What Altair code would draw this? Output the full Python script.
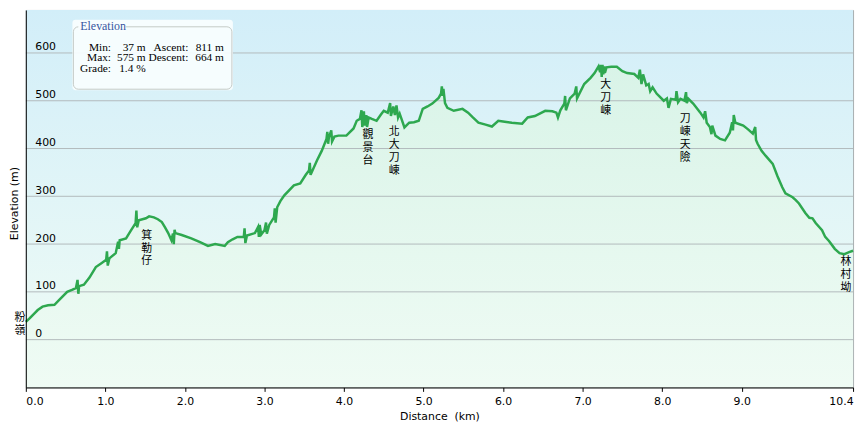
import altair as alt
import pandas as pd

# ---- profile data (distance km, elevation m) ----
dist = [0.00, 0.05, 0.09, 0.15, 0.21, 0.28, 0.36, 0.42, 0.52, 0.58, 0.63, 0.65, 0.66, 0.67, 0.73,
        0.80, 0.88, 0.95, 1.01, 1.02, 1.03, 1.05, 1.13, 1.16, 1.17, 1.18, 1.26, 1.32, 1.38, 1.39,
        1.40, 1.42, 1.51, 1.55, 1.61, 1.66, 1.71, 1.75, 1.79, 1.83, 1.85, 1.86, 1.87, 1.88, 1.96,
        2.08, 2.19, 2.29, 2.38, 2.50, 2.54, 2.60, 2.66, 2.74, 2.75, 2.76, 2.78, 2.88, 2.92, 2.93,
        2.94, 2.96, 3.00, 3.02, 3.03, 3.06, 3.12, 3.13, 3.14, 3.16, 3.20, 3.25, 3.37, 3.45, 3.52,
        3.56, 3.57, 3.58, 3.66, 3.72, 3.78, 3.79, 3.80, 3.81, 3.84, 3.85, 3.88, 3.93, 4.03, 4.12,
        4.16, 4.20, 4.22, 4.23, 4.25, 4.26, 4.28, 4.29, 4.31, 4.35, 4.41, 4.46, 4.50, 4.55, 4.58,
        4.59, 4.62, 4.64, 4.66, 4.68, 4.70, 4.76, 4.82, 4.88, 4.94, 4.99, 5.05, 5.11, 5.19, 5.22,
        5.23, 5.24, 5.25, 5.27, 5.30, 5.38, 5.49, 5.56, 5.62, 5.69, 5.78, 5.86, 5.94, 6.02, 6.11,
        6.24, 6.31, 6.40, 6.53, 6.62, 6.67, 6.69, 6.72, 6.77, 6.78, 6.79, 6.84, 6.90, 6.92, 6.93,
        7.02, 7.10, 7.15, 7.20, 7.22, 7.23, 7.24, 7.25, 7.26, 7.27, 7.28, 7.30, 7.36, 7.43, 7.50,
        7.56, 7.65, 7.70, 7.72, 7.74, 7.76, 7.80, 7.83, 7.85, 7.88, 7.93, 8.02, 8.06, 8.08, 8.11,
        8.17, 8.18, 8.20, 8.23, 8.28, 8.30, 8.31, 8.33, 8.39, 8.48, 8.52, 8.54, 8.56, 8.60, 8.62,
        8.63, 8.67, 8.73, 8.79, 8.85, 8.88, 8.89, 8.90, 8.92, 9.02, 9.08, 9.14, 9.17, 9.18, 9.20,
        9.25, 9.30, 9.39, 9.45, 9.51, 9.55, 9.64, 9.68, 9.72, 9.80, 9.85, 9.89, 9.93, 10.01, 10.05,
        10.10, 10.17, 10.23, 10.29, 10.35, 10.40]
elev = [37, 45, 52, 62, 69, 72, 73, 83, 100, 104, 108, 125, 96, 112, 115,
        130, 152, 160, 167, 185, 155, 170, 181, 205, 190, 208, 212, 228, 244, 270,
        235, 250, 254, 258, 256, 252, 246, 235, 223, 208, 222, 200, 230, 223, 219,
        212, 204, 196, 200, 196, 204, 210, 215, 215, 233, 202, 218, 223, 236, 215,
        240, 220, 229, 245, 222, 240, 256, 275, 245, 277, 290, 302, 323, 327, 345,
        354, 370, 345, 375, 395, 420, 435, 410, 423, 438, 415, 425, 427, 427, 442,
        458, 462, 480, 445, 478, 448, 470, 445, 465, 462, 458, 470, 479, 475, 495,
        468, 488, 470, 490, 465, 473, 444, 454, 455, 458, 483, 488, 494, 506, 515,
        530, 510, 525, 495, 485, 479, 483, 475, 465, 454, 450, 446, 458, 456, 454,
        452, 465, 468, 479, 478, 475, 465, 480, 494, 510, 480, 505, 515, 530, 505,
        535, 548, 558, 572, 560, 575, 550, 575, 555, 572, 558, 570, 571, 571, 562,
        558, 556, 548, 565, 535, 555, 532, 535, 520, 528, 515, 500, 505, 485, 504,
        502, 520, 497, 504, 500, 518, 495, 504, 494, 475, 465, 478, 454, 445, 430,
        448, 427, 420, 417, 433, 455, 438, 470, 454, 448, 440, 431, 445, 418, 410,
        395, 385, 368, 342, 319, 306, 298, 292, 285, 265, 255, 254, 244, 229, 215,
        206, 190, 181, 179, 183, 186]

# ---- place names along the trail ----
place_names = ["粉嶺", "箕勒仔", "觀景台", "北大刀崠", "大刀崠", "刀崠天險", "林村坳"]
place_dist = [-0.075, 1.52, 4.30, 4.63, 7.29, 8.29, 10.31]
place_elev = [58, 230, 441, 447, 545, 474, 174]

# ---- summary box ----
box_title = "Elevation"
stat_names_1 = ["Min:", "Max:", "Grade:"]
stat_values_1 = ["37 m", "575 m", "1.4 %"]
stat_names_2 = ["Ascent:", "Descent:"]
stat_values_2 = ["811 m", "664 m"]

x_ticks = [0, 1, 2, 3, 4, 5, 6, 7, 8, 9, 10.4]
y_ticks = [0, 100, 200, 300, 400, 500, 600]

W, H = 835, 381
profile = pd.DataFrame({"dist": dist, "elev": elev})
places = pd.DataFrame({"dist": place_dist, "elev": place_elev,
                       "name": ["\n".join(list(n)) for n in place_names]})
grid_df = pd.DataFrame({"elev": y_ticks})

xscale = alt.Scale(domain=[0, 10.4], nice=False, zero=False)
yscale = alt.Scale(domain=[-100, 690], nice=False, zero=False)

one = alt.Data(values=[{"a": 1}])

bg = alt.Chart(one).mark_rect(
    fill=alt.Gradient(gradient="linear", x1=0, x2=0, y1=0, y2=1,
                      stops=[alt.GradientStop(color="#d2eef9", offset=0),
                             alt.GradientStop(color="#f0fcf5", offset=1)])
).encode(x=alt.value(0), x2=alt.value(W), y=alt.value(0), y2=alt.value(H))

xaxis = alt.Axis(values=x_ticks, format=".1f", title="Distance\u00a0 (km)", grid=False,
                 domainColor="#000000", tickColor="#000000", tickSize=4, labelPadding=4,
                 labelFlush=True, labelFont="DejaVu Sans", labelFontSize=11, labelColor="#000000",
                 titleFont="DejaVu Sans", titleFontSize=11, titleFontWeight="normal",
                 titleColor="#000000", titlePadding=4, zindex=1)
yaxis = alt.Axis(values=y_ticks, title="Elevation (m)", grid=False,
                 ticks=False, domainColor="#000000", labelAlign="left", labelPadding=-9,
                 labelBaseline="bottom", labelOffset=-1, labelFont="DejaVu Sans", labelFontSize=11,
                 labelColor="#000000", titleFont="DejaVu Sans", titleFontSize=11,
                 titleFontWeight="normal", titleColor="#000000", titleX=-11, titleY=195,
                 titleAngle=-90, titleBaseline="middle", titleAlign="center", zindex=1)

area = alt.Chart(profile).mark_area(
    fill=alt.Gradient(gradient="linear", x1=0, x2=0, y1=0, y2=1,
                      stops=[alt.GradientStop(color="#d9f4e6", offset=0),
                             alt.GradientStop(color="#effbf4", offset=1)]),
    opacity=0.9
).encode(x=alt.X("dist:Q", scale=xscale, axis=xaxis),
         y=alt.Y("elev:Q", scale=yscale, axis=yaxis),
         y2=alt.datum(-100))

grid = alt.Chart(grid_df).mark_rule(color="#b2babc", strokeWidth=1).encode(
    y=alt.Y("elev:Q", scale=yscale), x=alt.value(0), x2=alt.value(W))

line = alt.Chart(profile).mark_line(color="#2ea84f", strokeWidth=2.5).encode(
    x=alt.X("dist:Q", scale=xscale), y=alt.Y("elev:Q", scale=yscale))

labels = alt.Chart(places).mark_text(
    lineBreak="\n", baseline="top", align="center", font="Noto Sans CJK TC",
    fontSize=11, lineHeight=13, color="#000000"
).encode(x=alt.X("dist:Q", scale=xscale), y=alt.Y("elev:Q", scale=yscale), text="name:N")

# summary box
box_bg = alt.Chart(one).mark_rect(fill="#f8fdfe", opacity=0.95, cornerRadius=3).encode(
    x=alt.value(47), x2=alt.value(209), y=alt.value(10), y2=alt.value(81))
box_border = alt.Chart(one).mark_rect(fill="#ffffff", fillOpacity=0, stroke="#c4cac6",
                                      strokeWidth=1, cornerRadius=5).encode(
    x=alt.value(48), x2=alt.value(208), y=alt.value(17), y2=alt.value(80))
title_gap = alt.Chart(one).mark_rect(fill="#f8fdfe").encode(
    x=alt.value(53), x2=alt.value(101), y=alt.value(12), y2=alt.value(22))
pieces = [alt.Chart(one).mark_text(text=box_title, font="Liberation Serif", fontSize=12,
                                   color="#3655a0", align="left", baseline="alphabetic").encode(
    x=alt.value(55), y=alt.value(20))]
rows_y = [38, 49, 60]
FS = 11.5
for i, (n, v) in enumerate(zip(stat_names_1, stat_values_1)):
    pieces.append(alt.Chart(one).mark_text(text=n, font="Liberation Serif", fontSize=FS,
                                           color="#000000", align="right").encode(
        x=alt.value(86), y=alt.value(rows_y[i])))
    pieces.append(alt.Chart(one).mark_text(text=v, font="Liberation Serif", fontSize=FS,
                                           color="#000000", align="right").encode(
        x=alt.value(121), y=alt.value(rows_y[i])))
for i, (n, v) in enumerate(zip(stat_names_2, stat_values_2)):
    pieces.append(alt.Chart(one).mark_text(text=n, font="Liberation Serif", fontSize=FS,
                                           color="#000000", align="right").encode(
        x=alt.value(164), y=alt.value(rows_y[i])))
    pieces.append(alt.Chart(one).mark_text(text=v, font="Liberation Serif", fontSize=FS,
                                           color="#000000", align="right").encode(
        x=alt.value(200), y=alt.value(rows_y[i])))

chart = alt.layer(bg, area, grid, line, labels, box_bg, box_border, title_gap, *pieces).properties(
    width=W, height=H,
    autosize=alt.AutoSizeParams(type="none"),
    padding={"left": 18, "top": 0, "right": 6, "bottom": 40},
    background="#ffffff",
).configure_view(stroke="#a3a9ab", strokeWidth=1)

chart.save("out.html", embed_options={"renderer": "svg", "actions": False})
